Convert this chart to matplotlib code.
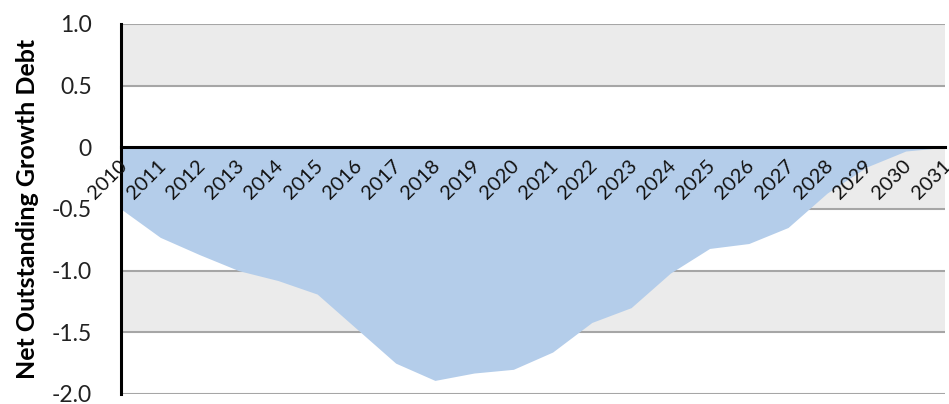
import numpy as np
import matplotlib.pyplot as plt
import matplotlib.transforms as mtransforms

# Dados
years = list(range(2010, 2032))
values = [-0.50, -0.73, -0.87, -1.00, -1.08, -1.19, -1.47, -1.75, -1.89, -1.83,
          -1.80, -1.66, -1.42, -1.30, -1.02, -0.82, -0.78, -0.65, -0.37, -0.16,
          -0.03, 0.0]
yticks = [-2.0, -1.5, -1.0, -0.5, 0.0, 0.5, 1.0]
ytick_labels = ['-2.0', '-1.5', '-1.0', '-0.5', '0', '0.5', '1.0']

plt.rcParams['font.family'] = ['Lato', 'DejaVu Sans']

fig = plt.figure(figsize=(9.49, 4.04), dpi=100)
ax = fig.add_axes([0.1275, 0.0248, 0.8683, 0.9158])

# Faixas alternadas de fundo
for i, (lo, hi) in enumerate(zip(yticks[:-1], yticks[1:])):
    if i % 2 == 1:
        ax.axhspan(lo, hi, color='#ebebeb', zorder=0, lw=0)
for y in yticks:
    if y != 0:
        ax.axhline(y, color='#a6a6a6', lw=1.5, zorder=1)

ax.fill_between(years, values, 0, color='#b4cdea', lw=0, zorder=2)

ax.set_xlim(2010, 2031)
ax.set_ylim(-2.0, 1.0)

for s in ['top', 'right']:
    ax.spines[s].set_visible(False)
ax.spines['bottom'].set_position(('data', 0))
ax.spines['bottom'].set_linewidth(2.2)
ax.spines['bottom'].set_zorder(3)
ax.spines['left'].set_linewidth(2.2)
ax.spines['left'].set_zorder(3)

# Rótulos dos anos logo abaixo da linha do zero, por cima da área
ax.set_xticks([])
offset = mtransforms.ScaledTranslation(2 / 72, -11 / 72, fig.dpi_scale_trans)
for yr in years:
    ax.text(yr, 0, str(yr), rotation=45, ha='right', va='center',
            rotation_mode='anchor', fontsize=14.5, color='#111111', zorder=5,
            transform=ax.transData + offset, clip_on=False)

ax.set_yticks(yticks)
ax.set_yticklabels(ytick_labels, fontsize=16.5, color='#222222')
ax.tick_params(axis='y', length=0, pad=21)

ax.set_ylabel('Net Outstanding Growth Debt', fontsize=18, fontweight='bold',
              labelpad=9)

fig.savefig('out.png', dpi=100)
